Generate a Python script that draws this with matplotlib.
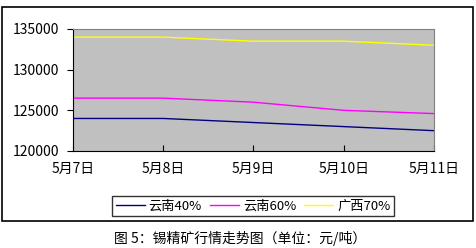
import matplotlib.pyplot as plt
from matplotlib.patches import Rectangle

plt.rcParams['font.family'] = ['Noto Sans CJK SC', 'DejaVu Sans']

dates = ['5月7日', '5月8日', '5月9日', '5月10日', '5月11日']
yn40 = [124000, 124000, 123500, 123000, 122500]
yn60 = [126500, 126500, 126000, 125000, 124600]
gx70 = [134000, 134000, 133500, 133500, 133000]
names = ['云南40%', '云南60%', '广西70%']

fig = plt.figure(figsize=(4.77, 2.48), dpi=100)
ax = fig.add_axes([73/477, 1-151/248, (434-73)/477, (151-29)/248])

# outer chart border
fig.patches.append(Rectangle((2/477, 1-221/248), 471/477, 214/248,
                             transform=fig.transFigure, fill=False,
                             edgecolor='black', linewidth=1.2))

x = range(len(dates))
ax.plot(x, yn40, color='#000080', lw=1, label=names[0])
ax.plot(x, yn60, color='#ff00ff', lw=1, label=names[1])
ax.plot(x, gx70, color='#ffff00', lw=1, label=names[2])

ax.set_facecolor('#c0c0c0')
ax.set_xlim(0, 4)
ax.set_ylim(120000, 135000)
ax.set_yticks([120000, 125000, 130000, 135000])
ax.set_xticks(list(x))
ax.set_xticklabels(dates)
ax.tick_params(axis='y', direction='out', length=4, labelsize=10, pad=6)
ax.tick_params(axis='x', direction='in', length=4, labelsize=10, pad=8)
for s in ['top', 'right']:
    ax.spines[s].set_color('#808080')
for s in ['left', 'bottom']:
    ax.spines[s].set_color('black')

leg = fig.legend(loc='center', bbox_to_anchor=(253/477, 1-206/248), ncol=3,
                 fontsize=9.5, frameon=True, fancybox=False, edgecolor='black',
                 handlelength=2.2, handletextpad=0.3, columnspacing=0.6,
                 borderpad=0.3)
leg.get_frame().set_linewidth(1)

fig.text(240/477, 1-238/248, '图 5：锡精矿行情走势图（单位：元/吨）',
         ha='center', va='center', fontsize=10)

fig.savefig('out.png', dpi=100)
